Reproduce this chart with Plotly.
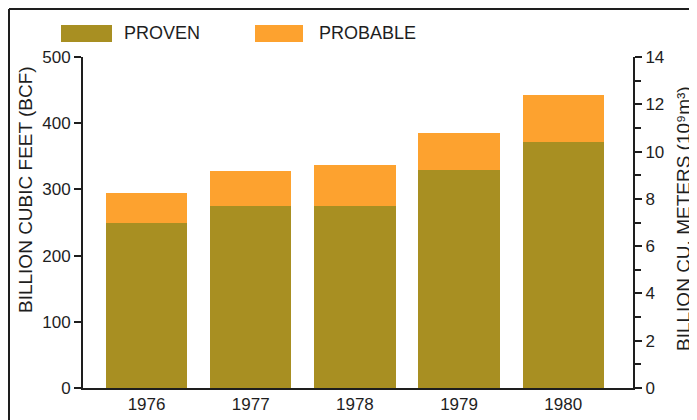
import plotly.graph_objects as go

years = ["1976", "1977", "1978", "1979", "1980"]
proven = [250, 275, 275, 330, 372]
probable = [45, 53, 62, 55, 70]
left_ticks = [0, 100, 200, 300, 400, 500]
right_ticks = [0, 2, 4, 6, 8, 10, 12, 14]

PROVEN_C = "#A88F22"
PROB_C = "#FDA22F"
TXT = "#1e1e1e"
FONT = "Liberation Sans, Arial, Helvetica, sans-serif"

# page places the figure 8px in from the top-left corner
OFF = 8
W, H = 697 - OFF, 420 - OFF
ML, MR, MT, MB = 83 - OFF, 64, 57 - OFF, 32
PW, PH = W - ML - MR, H - MT - MB

def px(x):  # window pixel -> paper
    return (x - OFF - ML) / PW

def py(y):
    return (H + OFF - MB - y) / PH

idx = list(range(len(years)))

fig = go.Figure()
fig.add_bar(x=idx, y=proven, name="PROVEN", marker=dict(color=PROVEN_C, line=dict(width=0)),
            width=0.78, showlegend=False)
fig.add_bar(x=idx, y=probable, name="PROBABLE", marker=dict(color=PROB_C, line=dict(width=0)),
            width=0.78, showlegend=False)
# invisible trace to anchor the right-hand axis (converted totals)
fig.add_scatter(x=idx, y=[(a + b) * 0.0283 for a, b in zip(proven, probable)], yaxis="y2",
                mode="none", showlegend=False, hoverinfo="skip")

fig.update_layout(
    width=W, height=H,
    margin=dict(l=ML, r=MR, t=MT, b=MB, autoexpand=False),
    barmode="stack",
    bargap=0,
    plot_bgcolor="white", paper_bgcolor="white",
    font=dict(family=FONT, size=17, color=TXT),
    xaxis=dict(range=[-0.61, 4.67], tickvals=idx, ticktext=years, showline=True,
               linecolor=TXT, linewidth=2, ticks="", showgrid=False, zeroline=False,
               tickfont=dict(size=17), automargin=False),
    yaxis=dict(range=[0, 500], tickvals=left_ticks, ticks="outside", ticklen=7, tickwidth=1.5,
               tickcolor=TXT, showline=True, linecolor=TXT, linewidth=2, showgrid=False,
               zeroline=False, tickfont=dict(size=17), automargin=False),
    yaxis2=dict(range=[0, 14], overlaying="y", side="right", tickvals=right_ticks,
                ticks="outside", ticklen=7, tickwidth=1.5, tickcolor=TXT, showline=True,
                linecolor=TXT, linewidth=2, showgrid=False, zeroline=False,
                tickfont=dict(size=17), automargin=False,
                minor=dict(dtick=1, ticks="outside", ticklen=6, tickwidth=1.5, tickcolor=TXT)),
)

# axis titles
fig.add_annotation(xref="paper", yref="paper", x=px(25), y=py(190), text="BILLION CUBIC FEET (BCF)",
                   textangle=-90, showarrow=False, xanchor="center", yanchor="middle",
                   font=dict(size=19, color=TXT))
fig.add_annotation(xref="paper", yref="paper", x=px(683), y=py(219),
                   text="BILLION CU. METERS (10⁹m³)",
                   textangle=-90, showarrow=False, xanchor="center", yanchor="middle",
                   font=dict(size=19, color=TXT))

# legend drawn as swatches + labels
legend_items = [("PROVEN", PROVEN_C, 61, 112, 122), ("PROBABLE", PROB_C, 255, 303, 317)]
for name, col, x0, x1, tx in legend_items:
    fig.add_shape(type="rect", xref="paper", yref="paper", x0=px(x0), x1=px(x1),
                  y0=py(42), y1=py(25), fillcolor=col, line=dict(width=0))
    fig.add_annotation(xref="paper", yref="paper", x=px(tx), y=py(33), text=name,
                       showarrow=False, xanchor="left", yanchor="middle",
                       font=dict(size=18, color=TXT))

# frame lines (left and top border of the original figure)
fig.add_shape(type="line", xref="paper", yref="paper", x0=px(9), x1=px(9), y0=py(9), y1=py(430),
              line=dict(color=TXT, width=2))
fig.add_shape(type="line", xref="paper", yref="paper", x0=px(9), x1=px(710), y0=py(9), y1=py(9),
              line=dict(color=TXT, width=2))

fig.write_html("out.html")
